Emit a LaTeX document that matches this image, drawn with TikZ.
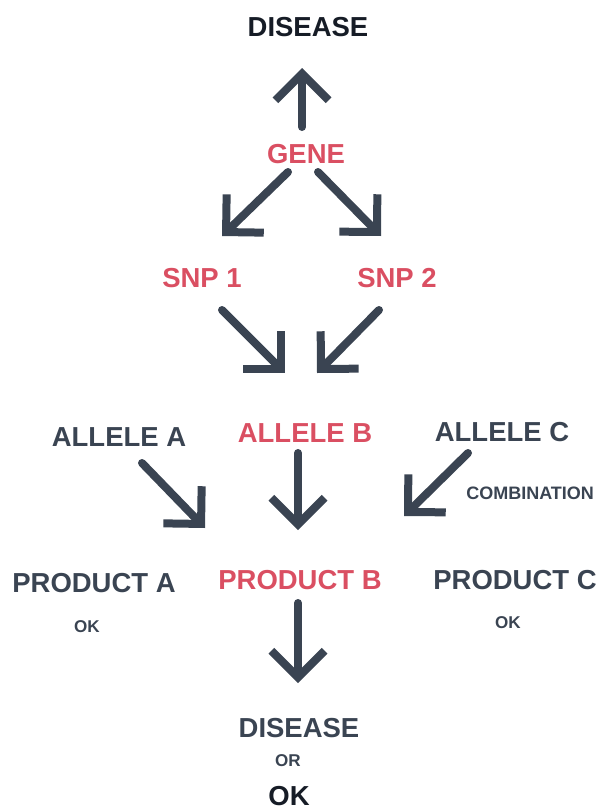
\documentclass[tikz,border=0pt]{standalone}
\usepackage{fontspec}
\setmainfont{Liberation Sans}
\usetikzlibrary{arrows.meta,positioning}
\definecolor{slate}{HTML}{3A4452}
\definecolor{ink}{HTML}{161C26}
\definecolor{rose}{HTML}{DA4F62}

\begin{document}
\begin{tikzpicture}[x=0.75pt,y=-0.75pt,
  big/.style={inner sep=0pt,font=\fontsize{20.6}{22}\selectfont\bfseries,text=slate},
  small/.style={inner sep=0pt,font=\fontsize{12.8}{14}\selectfont\bfseries,text=slate},
  hot/.style={text=rose},
  fat/.style={draw=slate,line width=6pt,line cap=round,
    -{Straight Barb[length=20pt,width=40pt,sharp]}}]
\useasboundingbox (0,0) rectangle (599,810);
% labels
\node[big,text=ink] (dis1) at (308,27) {DISEASE};
\node[big,hot] (gene) at (306,154) {GENE};
\node[big,hot] (snp1) at (202,278) {SNP 1};
\node[big,hot] (snp2) at (397,278) {SNP 2};
\node[big] (alA) at (119,437) {ALLELE A};
\node[big,hot] (alB) at (305,433) {ALLELE B};
\node[big] (alC) at (502,432) {ALLELE C};
\node[small,anchor=west,font=\fontsize{13.5}{15}\selectfont\bfseries] (comb) at (466,493) {COMBINATION};
\node[big] (prA) at (94,583) {PRODUCT A};
\node[big,hot] (prB) at (300,580) {PRODUCT B};
\node[big] (prC) at (515,580) {PRODUCT C};
\node[small] (okA) at (87,627) {OK};
\node[small] (okC) at (508,623) {OK};
\node[big] (dis2) at (299,728) {DISEASE};
\node[small] (orr) at (288,761) {OR};
\node[big,text=ink] (ok) at (289,796) {OK};
% arrow ends
\coordinate (g0) at (302,127);  \coordinate (g1) at (302,68);
\coordinate (gl0) at (288,172); \coordinate (gl1) at (222,236);
\coordinate (gr0) at (318,172); \coordinate (gr1) at (381,236);
\coordinate (s10) at (222,310); \coordinate (s11) at (285,373);
\coordinate (s20) at (379,310); \coordinate (s21) at (317,373);
\coordinate (a0) at (142,463);  \coordinate (a1) at (205,528);
\coordinate (b0) at (298,453);  \coordinate (b1) at (298,530);
\coordinate (c0) at (468,453);  \coordinate (c1) at (404,516);
\coordinate (p0) at (298,603);  \coordinate (p1) at (298,683);
% arrows
\draw[fat] (g0) -- (g1);
\draw[fat] (gl0) -- (gl1);
\draw[fat] (gr0) -- (gr1);
\draw[fat] (s10) -- (s11);
\draw[fat] (s20) -- (s21);
\draw[fat] (a0) -- (a1);
\draw[fat] (b0) -- (b1);
\draw[fat] (c0) -- (c1);
\draw[fat] (p0) -- (p1);
\end{tikzpicture}
\end{document}
